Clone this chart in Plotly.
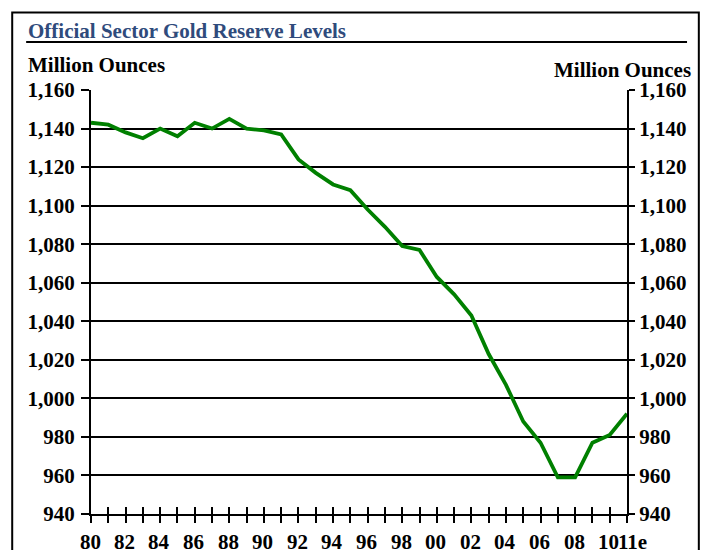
import plotly.graph_objects as go

years = list(range(1980, 2012))
reserves = [1143, 1142, 1138, 1135, 1140, 1136, 1143, 1140, 1145, 1140,
            1139, 1137, 1124, 1117, 1111, 1108, 1098, 1089, 1079, 1077,
            1063, 1054, 1043, 1023, 1007, 988, 977, 959, 959, 977,
            981, 992]
x_label_years = [1980, 1982, 1984, 1986, 1988, 1990, 1992, 1994, 1996, 1998,
                 2000, 2002, 2004, 2006, 2008, 2010, 2011]
x_label_text = ["80", "82", "84", "86", "88", "90", "92", "94", "96", "98",
                "00", "02", "04", "06", "08", "10", "11e"]
y_ticks = list(range(940, 1161, 20))
y_tick_text = [f"{v:,}" for v in y_ticks]

FONT = "Liberation Serif"
fig = go.Figure()
fig.add_trace(go.Scatter(x=years, y=reserves, mode="lines",
                         line=dict(color="#008000", width=3.8),
                         hoverinfo="skip", showlegend=False))
fig.add_trace(go.Scatter(x=years, y=reserves, mode="lines", xaxis="x2", yaxis="y2",
                         line=dict(color="rgba(0,0,0,0)", width=0),
                         hoverinfo="skip", showlegend=False))

axis_common = dict(linecolor="black", linewidth=2, tickcolor="black", tickwidth=2,
                   tickfont=dict(family=FONT, size=21, color="black", weight="bold"))
fig.update_layout(
    width=704, height=550,
    margin=dict(l=91, r=77, t=90, b=36),
    paper_bgcolor="white", plot_bgcolor="white",
    xaxis=dict(range=[1980, 2011], tickmode="array", tickvals=years,
               showticklabels=False, ticks="outside", ticklen=7,
               showline=True, showgrid=False, zeroline=False, **axis_common),
    xaxis2=dict(range=[1980, 2011], overlaying="x", side="bottom", anchor="y",
                tickmode="array", tickvals=years, showticklabels=False,
                ticks="inside", ticklen=7, showline=False, showgrid=False,
                zeroline=False, **axis_common),
    yaxis=dict(range=[940, 1160], tickmode="array", tickvals=y_ticks,
               ticktext=y_tick_text, ticks="outside", ticklen=8, ticklabelstandoff=2,
               showline=True, showgrid=True, gridcolor="black", gridwidth=2,
               zeroline=False, **axis_common),
    yaxis2=dict(range=[940, 1160], overlaying="y", side="right", anchor="x",
                tickmode="array", tickvals=y_ticks, ticktext=y_tick_text,
                ticks="outside", ticklen=6, showline=True, showgrid=False,
                zeroline=False, **axis_common),
    showlegend=False,
)

label_font = dict(family=FONT, size=21, color="black", weight="bold")
annotations = []
for yr, txt in zip(x_label_years, x_label_text):
    if txt == "11e":
        annotations.append(dict(x=yr, y=0, xref="x", yref="paper", text=txt,
                                showarrow=False, xanchor="left", yanchor="top",
                                xshift=-11, yshift=-14, font=label_font))
    else:
        annotations.append(dict(x=yr, y=0, xref="x", yref="paper", text=txt,
                                showarrow=False, xanchor="center", yanchor="top",
                                xshift=-1, yshift=-14, font=label_font))

annotations += [
    dict(x=-0.121, y=1.171, xref="paper", yref="paper", xanchor="left", yanchor="top",
         text="Official Sector Gold Reserve Levels", showarrow=False,
         font=dict(family=FONT, size=21, color="#2F4B7C", weight="bold")),
    dict(x=-0.121, y=1.091, xref="paper", yref="paper", xanchor="left", yanchor="top",
         text="Million Ounces", showarrow=False,
         font=dict(family=FONT, size=21, color="black", weight="bold")),
    dict(x=1.123, y=1.081, xref="paper", yref="paper", xanchor="right", yanchor="top",
         text="Million Ounces", showarrow=False,
         font=dict(family=FONT, size=21, color="black", weight="bold")),
]
fig.update_layout(annotations=annotations)

fig.update_layout(shapes=[
    dict(type="rect", xref="paper", yref="paper", x0=-0.147, x1=1.134, y0=-0.2, y1=1.183,
         line=dict(color="black", width=2), fillcolor="rgba(0,0,0,0)", layer="below"),
    dict(type="line", xref="paper", yref="paper", x0=-0.121, x1=1.112, y0=1.113, y1=1.113,
         line=dict(color="black", width=2)),
])

fig.write_html("out.html", config={"displayModeBar": False},
               post_script="document.body.style.margin='0';document.body.style.overflow='hidden';")
